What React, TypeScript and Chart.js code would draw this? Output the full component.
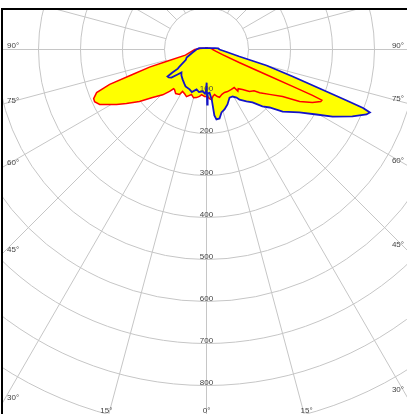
import { useEffect, useRef } from "react";
import { Chart, registerables } from "chart.js";

Chart.register(...registerables);

// ---- data (gamma angle in degrees, 0 = straight down, negative = left; intensity in cd) ----
const redAngles = [-180, -130, -110, -100, -90, -80, -75, -73.5, -72.8, -71.3, -70.2, -68.6, -66.5, -65, -62.8, -60, -58.6, -56, -52.2, -48.4, -44, -41.4, -40, -38.7, -35, -31, -29.7, -26, -23, -18.4, -15, -11.8, -8.5, -6.3, -2.4, 1.2, 3.5, 5.7, 8, 10.1, 13, 15.2, 19, 22.7, 26.6, 32, 36, 37, 39, 42, 45.7, 49, 50.9, 54.5, 58.3, 60.8, 63.4, 65.5, 66.3, 66.6, 66.8, 67.2, 68.3, 72, 80, 90, 100, 110, 130, 180];
const redValues = [4, 5, 9, 15, 28, 40, 52, 100, 142, 186, 245, 281, 293, 294, 286, 262, 251, 230, 202, 172, 150, 133, 122, 122, 128, 125, 115, 118, 122, 113, 119, 117, 113, 108, 112, 112, 117, 120, 112, 109, 115, 118, 113, 111, 112, 112, 112, 124, 120, 128, 143, 150, 163, 184, 213, 254, 282, 299, 300, 275, 223, 155, 85, 40, 22, 15, 12, 8, 5, 4];

const blueAngles = [-180, -130, -110, -100, -90, -78, -68, -63.4, -57.8, -56.3, -55.9, -55.3, -53.5, -51.3, -49.2, -47.4, -44, -38.7, -33, -29.6, -23, -19, -14, -10, -5.4, -2, -1, 0.3, 0.7, 1.5, 4, 6, 6.8, 8.1, 10.7, 13.4, 16.7, 20.9, 25.6, 29, 32, 33.4, 37.6, 41, 44.5, 47.4, 50.8, 55.9, 59.4, 62, 65.4, 67.9, 68.9, 69.5, 70, 71, 72.6, 75.1, 78, 84, 90, 95, 100, 110, 130, 180];
const blueValues = [4, 5, 10, 18, 24, 34, 51, 55, 76, 82, 98, 113, 112, 107, 91, 81, 86, 91, 97, 101, 103, 107, 98, 103, 100, 105, 100, 79, 131, 105, 103, 120, 158, 168, 167, 154, 149, 140, 127, 128, 135, 143, 156, 167, 190, 204, 234, 267, 304, 340, 382, 411, 417, 398, 355, 285, 215, 148, 80, 45, 31, 28, 20, 10, 5, 4];

const ringValues = [100, 200, 300, 400, 500, 600, 700, 800, 900, 1000, 1100, 1200];
const ringLabels = ["100", "200", "300", "400", "500", "600", "700", "800"];
const spokeAngles = [0, 15, 30, 45, 60, 75, 90, 105, 120, 135, 150, 165, 180, 195, 210, 225, 240, 255, 270, 285, 300, 315, 330, 345];
const edgeAngles = [-90, -75, -60, -45, -30, -15, 0, 15, 30, 45, 60, 75, 90];
const edgeLabels = ["90°", "75°", "60°", "45°", "30°", "15°", "0°", "15°", "30°", "45°", "60°", "75°", "90°"];

// ---- layout / style ----
const W = 407;
const H = 414;
const CX = 206.5;
const CY = 49.5;
const PX_PER_CD = 0.42;
const FRAME_LEFT = 1;
const FRAME_TOP = 8;
const FRAME_W = 2;
const GRID = "#c6c6c6";
const TEXT = "#444444";
const FONT = "8px 'Liberation Sans', Arial, sans-serif";
const RED = "#ff0000";
const BLUE = "#1414c8";
const YELLOW = "#ffff00";

const rad = (d: number) => (d * Math.PI) / 180;
const toXY = (angles: number[], values: number[]) =>
  angles.map((a, i) => ({ x: values[i] * Math.sin(rad(a)), y: -values[i] * Math.cos(rad(a)) }));

const polarPlugin = {
  id: "polarGrid",
  beforeDatasetsDraw(chart: any) {
    const { ctx, scales } = chart;
    const xs = scales.x;
    const ys = scales.y;
    const ox = xs.getPixelForValue(0);
    const oy = ys.getPixelForValue(0);
    const rpx = (v: number) => xs.getPixelForValue(v) - ox;
    ctx.save();
    ctx.beginPath();
    ctx.rect(FRAME_LEFT + FRAME_W, FRAME_TOP + FRAME_W, W, H);
    ctx.clip();
    ctx.strokeStyle = GRID;
    ctx.lineWidth = 1;
    for (const v of ringValues) {
      ctx.beginPath();
      ctx.arc(ox, oy, rpx(v), 0, Math.PI * 2);
      ctx.stroke();
    }
    const rIn = rpx(ringValues[0]);
    const rOut = rpx(ringValues[ringValues.length - 1] + 300);
    for (const a of spokeAngles) {
      const s = Math.sin(rad(a));
      const c = Math.cos(rad(a));
      ctx.beginPath();
      ctx.moveTo(ox + rIn * s, oy + rIn * c);
      ctx.lineTo(ox + rOut * s, oy + rOut * c);
      ctx.stroke();
    }
    ctx.restore();
  },
  afterDatasetsDraw(chart: any) {
    const { ctx, scales } = chart;
    const xs = scales.x;
    const ys = scales.y;
    const ox = xs.getPixelForValue(0);
    const oy = ys.getPixelForValue(0);
    ctx.save();
    ctx.font = FONT;
    ctx.fillStyle = TEXT;
    ctx.textBaseline = "alphabetic";
    // ring labels along the 0° line
    ctx.textAlign = "center";
    ringLabels.forEach((lab, i) => {
      const py = ys.getPixelForValue(-ringValues[i]);
      ctx.fillText(lab, ox, py - 0.5);
    });
    // angle labels at the frame edges
    const left = FRAME_LEFT + FRAME_W;
    const right = W - 2;
    edgeAngles.forEach((a, i) => {
      const s = Math.sin(rad(a));
      const c = Math.cos(rad(a));
      let t = Infinity;
      let side = "bottom";
      if (c > 1e-6) { t = (H - oy) / c; side = "bottom"; }
      if (s < -1e-6) { const tl = (ox - left) / -s; if (tl < t) { t = tl; side = "left"; } }
      if (s > 1e-6) { const tr = (right - ox) / s; if (tr < t) { t = tr; side = "right"; } }
      const hx = ox + t * s;
      const hy = oy + t * c;
      if (side === "left") {
        ctx.textAlign = "left";
        ctx.fillText(edgeLabels[i], 7, hy - 1.5);
      } else if (side === "right") {
        ctx.textAlign = "right";
        ctx.fillText(edgeLabels[i], W - 3, hy - 1.5);
      } else {
        ctx.textAlign = "center";
        ctx.fillText(edgeLabels[i], hx + Math.sign(a) * 2.5, H - 1);
      }
    });
    // frame
    ctx.fillStyle = "#000000";
    ctx.fillRect(FRAME_LEFT, FRAME_TOP, W - FRAME_LEFT, FRAME_W);
    ctx.fillRect(FRAME_LEFT, FRAME_TOP, FRAME_W, H - FRAME_TOP);
    ctx.restore();
  },
};

export default function App() {
  const ref = useRef<HTMLCanvasElement | null>(null);
  useEffect(() => {
    if (!ref.current) return;
    const redPts = toXY(redAngles, redValues);
    const bluePts = toXY(blueAngles, blueValues);
    const chart = new Chart(ref.current, {
      type: "scatter",
      data: {
        datasets: [
          { data: bluePts, showLine: true, borderColor: BLUE, borderWidth: 1.8, pointRadius: 0, fill: false, order: 0 },
          { data: redPts, showLine: true, borderColor: RED, borderWidth: 1.5, pointRadius: 0, fill: false, order: 1 },
          { data: bluePts, showLine: true, borderColor: "rgba(0,0,0,0)", borderWidth: 0, backgroundColor: YELLOW, pointRadius: 0, fill: "shape", order: 2 },
          { data: redPts, showLine: true, borderColor: "rgba(0,0,0,0)", borderWidth: 0, backgroundColor: YELLOW, pointRadius: 0, fill: "shape", order: 3 },
        ],
      } as any,
      options: {
        responsive: false,
        maintainAspectRatio: false,
        animation: false,
        events: [],
        layout: { padding: 0 },
        plugins: { legend: { display: false }, tooltip: { enabled: false } },
        scales: {
          x: { type: "linear", display: false, min: -CX / PX_PER_CD, max: (W - CX) / PX_PER_CD },
          y: { type: "linear", display: false, min: -(H - CY) / PX_PER_CD, max: CY / PX_PER_CD },
        },
      } as any,
      plugins: [polarPlugin],
    });
    return () => chart.destroy();
  }, []);
  return (
    <div style={{ position: "absolute", left: 0, top: 0, width: W, height: H, background: "#fff" }}>
      <canvas ref={ref} width={W} height={H} style={{ width: W, height: H, display: "block" }} />
    </div>
  );
}
